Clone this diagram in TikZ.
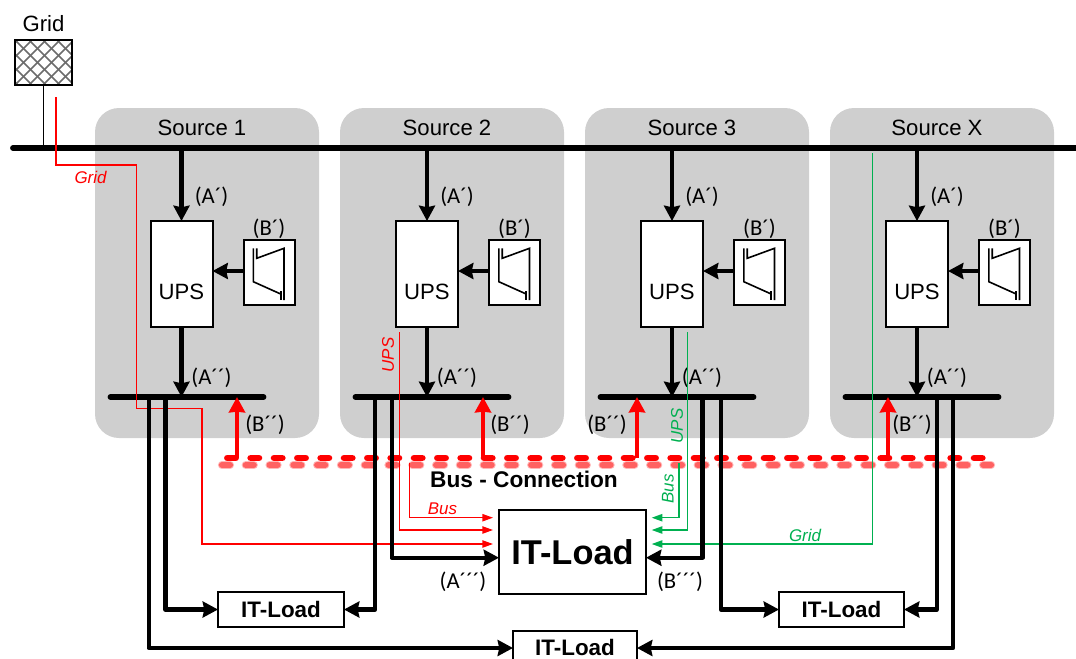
\documentclass[tikz,border=0pt]{standalone}
\usepackage{fontspec}
\setmainfont{Liberation Sans}
\newfontfamily\labfont{Carlito}
\usetikzlibrary{arrows.meta,calc}
\definecolor{srcgray}{HTML}{CFCFCF}
\definecolor{gr}{HTML}{00B050}
\tikzset{
  srcbg/.style={fill=srcgray,draw=none,rounded corners=18pt},
  srcname/.style={font=\fontsize{16.6pt}{18pt}\selectfont,inner sep=0pt},
  box/.style={draw=black,line width=1.5pt,fill=white,inner sep=0pt,outer sep=0pt},
  power/.style={line width=3.3pt,draw=black,line join=round,-{Stealth[length=11.5pt,width=12pt,inset=1.2pt]}},
  barline/.style={line width=4.4pt,draw=black,line cap=round},
  feed/.style={line width=3.6pt,draw=red,-{Stealth[length=11.5pt,width=12pt,inset=0.5pt]}},
  thinred/.style={line width=1pt,draw=red,-{Triangle[length=8pt,width=5.5pt]}},
  thingreen/.style={line width=1pt,draw=gr,-{Triangle[length=8pt,width=5.5pt]}},
  lab/.style={font=\labfont\fontsize{17pt}{19pt}\selectfont,inner sep=0pt},
  tag/.style={font=\itshape\fontsize{12.7pt}{14pt}\selectfont,inner sep=0pt},
  loadtxt/.style={box,font=\bfseries\fontsize{16.8pt}{18pt}\selectfont},
}
\begin{document}
\begin{tikzpicture}[x=0.75pt,y=-0.75pt]
\useasboundingbox (0,0) rectangle (1076,658);
\clip (0,0) rectangle (1076,658);

% source panels
\foreach \n/\bx/\title in {1/95/Source 1,2/340/Source 2,3/585/Source 3,4/830/Source X}{
  \fill[srcbg] (\bx,108) rectangle ({\bx+224},438);
  \node[srcname] (title\n) at ({\bx+107},127.5) {\title};
}

% grid
\node[box,line width=1.8pt,minimum width=42.75pt,minimum height=33.75pt] (gridbox) at (43.5,62.5) {};
\begin{scope}
  \clip (gridbox.south west) rectangle (gridbox.north east);
  \foreach \d in {-56,-42,...,70}{
    \draw[gray!85!black,line width=1.2pt] ({15+\d},40) -- ({60+\d},85);
    \draw[gray!85!black,line width=1.2pt] ({15+\d},85) -- ({60+\d},40);
  }
\end{scope}
\draw[black,line width=1.8pt] (gridbox.south west) rectangle (gridbox.north east);
\node[srcname] (gridtitle) at (43.5,23.5) {Grid};

% main bus
\coordinate (mainL) at (13,148);
\coordinate (mainR) at (1080,148);
\draw[black,line width=1pt] (gridbox.south) -- (gridbox.south |- mainL);
\draw[barline] (mainL) -- (mainR);

% bus connection
\coordinate (connL) at (227.5,458);
\coordinate (connR) at (983,458);
\coordinate (shadL) at (222,465);
\coordinate (shadR) at (991,465);
\draw[red!28,line width=6.2pt,line cap=round,dash pattern=on 6pt off 11.84pt] (shadL) -- (shadR);
\draw[red!62,line width=4.6pt,line cap=round,dash pattern=on 6pt off 11.84pt] (shadL) -- (shadR);
\draw[red,line width=5.2pt,line cap=round,dash pattern=on 6pt off 11.5pt] (connL) -- (connR);

% units per source
\foreach \n/\cx/\bl/\br/\rx/\blab in {1/181.5/110.5/263.5/237/265,2/427/355.5/508.5/483/510,3/672/600.5/753.5/637/607,4/917/845.5/998.5/888/912}{
  \node[box,minimum width=46.5pt,minimum height=79.5pt] (ups\n) at (\cx,274) {};
  \node[srcname] (upstxt\n) at (\cx,291.5) {UPS};
  \node[box,minimum width=38.25pt,minimum height=48.75pt] (conv\n) at ({\cx+87.5},272.5) {};
  \begin{scope}[shift={({\cx+61.5},240)},line width=1.2pt]
    \draw (10.3,8.3) -- (10.3,41.7) -- (37.7,54);
    \draw (13.7,8.3) -- (13.7,18.3) -- (41,8.3) -- (41,60);
    \draw (37.7,51) -- (37.7,60);
  \end{scope}
  \coordinate (barL\n) at (\bl,397);
  \coordinate (barR\n) at (\br,397);
  \draw[barline] (barL\n) -- (barR\n);
  \draw[power] (ups\n.north |- mainL) -- (ups\n.north);
  \draw[power] (ups\n.south) -- (ups\n.south |- barL\n);
  \draw[power] (conv\n.west |- 0,271) -- (ups\n.east |- 0,271);
  \coordinate (feed\n) at (\rx,397);
  \draw[feed] (feed\n |- connL) -- (feed\n);
  \node[lab] (a\n) at ({\cx+30},197) {(A´)};
  \node[lab] (b\n) at ({\cx+87.5},229) {(B´)};
  \node[lab] (aa\n) at ({\cx+30},378) {(A´´)};
  \node[lab] (bb\n) at (\blab,424.5) {(B´´)};
}

% IT loads
\node[box,minimum width=110.25pt,minimum height=63pt,font=\bfseries\fontsize{25.8pt}{28pt}\selectfont] (big) at (572.5,552) {IT-Load};
\node[loadtxt,minimum width=94.5pt,minimum height=26.25pt] (load1) at (281,609.5) {IT-Load};
\node[loadtxt,minimum width=93.75pt,minimum height=26.25pt] (load2) at (841.5,609.5) {IT-Load};
\node[box,minimum width=93pt,minimum height=26.25pt] (load3) at (575,648) {};
\node[font=\bfseries\fontsize{16.8pt}{18pt}\selectfont,inner sep=0pt] (load3txt) at (575,647) {IT-Load};
\coordinate (bigWa) at (big.west |- 0,557.7);
\coordinate (bigEa) at (big.east |- 0,557.7);

% thin red paths
\coordinate (gridRed) at (56,97);
\coordinate (upsRed) at (399.3,332);
\coordinate (busRed) at (409.3,463);
\coordinate (endR1) at (493,517.7);
\coordinate (endR2) at (493,530);
\coordinate (endR3) at (493,544);
\draw[thinred] (gridRed) |- (136.7,165) |- (202,408.5) |- (endR3);
\draw[thinred] (upsRed) |- (endR2);
\draw[thinred] (busRed) |- (endR1);
% thin green paths
\coordinate (upsGr) at (687.3,332);
\coordinate (busGr) at (679,463);
\coordinate (gridGr) at (872.3,153);
\coordinate (endG1) at (651.7,517.7);
\coordinate (endG2) at (651.7,530);
\coordinate (endG3) at (651.7,544);
\draw[thingreen] (busGr) |- (endG1);
\draw[thingreen] (upsGr) |- (endG2);
\draw[thingreen] (gridGr) |- (endG3);

% heavy feeders
\coordinate (t1a) at (148.7,397);
\coordinate (t1b) at (165.3,397);
\coordinate (t2a) at (375,397);
\coordinate (t2b) at (391.7,397);
\coordinate (t3a) at (702.3,397);
\coordinate (t3b) at (720.7,397);
\coordinate (t4a) at (936.7,397);
\coordinate (t4b) at (953,397);
\draw[power] (t1a) |- (load3.west);
\draw[power] (t1b) |- (load1.west);
\draw[power] (t2a) |- (load1.east);
\draw[power] (t2b) |- (bigWa);
\draw[power] (t3a) |- (bigEa);
\draw[power] (t3b) |- (load2.west);
\draw[power] (t4a) |- (load2.east);
\draw[power] (t4b) |- (load3.east);

% labels
\node[font=\bfseries\fontsize{17pt}{19pt}\selectfont,inner sep=0pt] (conn) at (524,479) {Bus - Connection};
\node[lab] (a3x) at (463,582) {(A´´´)};
\node[lab] (b3x) at (680,582) {(B´´´)};
\node[tag,text=red] (tg1) at (90.5,177) {Grid};
\node[tag,text=red] (tg2) at (442.5,509) {Bus};
\node[tag,text=red,rotate=90] (tg3) at (388,355) {UPS};
\node[tag,text=gr,rotate=90] (tg4) at (677,426) {UPS};
\node[tag,text=gr,rotate=90] (tg5) at (668,489) {Bus};
\node[tag,text=gr] (tg6) at (805,535) {Grid};
\end{tikzpicture}
\end{document}
